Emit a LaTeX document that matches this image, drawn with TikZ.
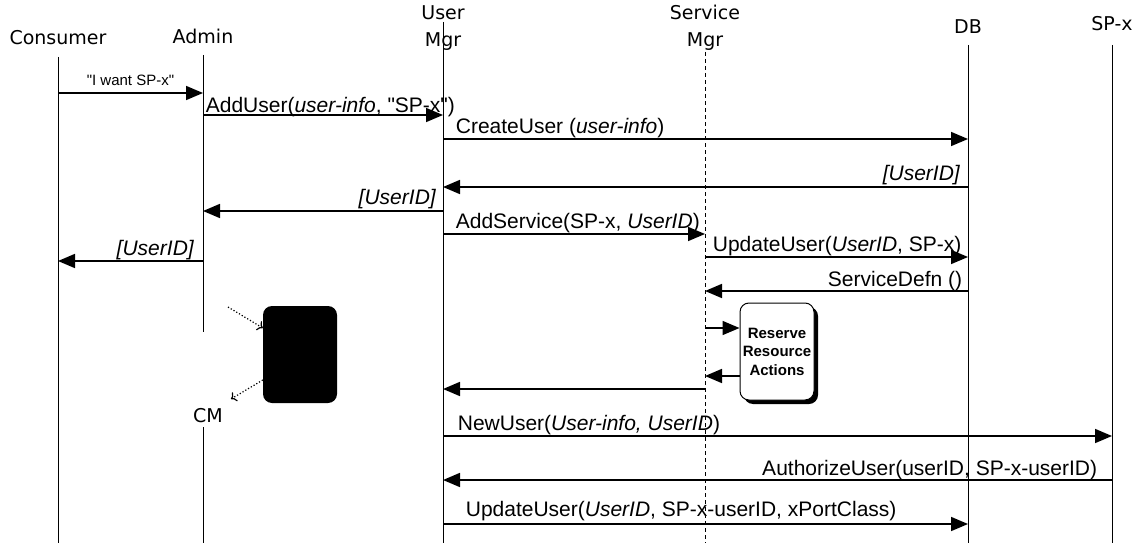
\documentclass[tikz,border=0pt]{standalone}
\usepackage{fontspec}
\setmainfont{Liberation Sans}
\newfontfamily\headfont{DejaVu Sans}
\usetikzlibrary{arrows.meta,shadows}

\begin{document}
\begin{tikzpicture}[x=1pt,y=-1pt,>={Triangle[length=17pt,width=14pt]},
  head/.style={font=\headfont\fontsize{19}{27}\selectfont,align=center,inner sep=0pt},
  life/.style={line width=0.9pt},
  msg/.style={->,line width=1.7pt},
  lbl/.style={font=\fontsize{21}{24}\selectfont,inner sep=0pt,yshift=6pt},
  act box/.style={draw,line width=1pt,rounded corners=9pt,fill=white,
    minimum width=74pt,minimum height=97pt,inner sep=1pt,align=center,
    font=\bfseries\fontsize{15}{18.5}\selectfont,
    drop shadow={shadow xshift=4pt,shadow yshift=-4pt,opacity=1,fill=black}}]

  \useasboundingbox[fill=white] (0,0) rectangle (1141,543);

  % lifelines
  \coordinate (cons)  at (58,57);
  \coordinate (admin) at (203,55);
  \coordinate (umgr)  at (443,22);
  \coordinate (smgr)  at (705,52);
  \coordinate (db)    at (968,45);
  \coordinate (spx)   at (1112,45);

  \node[head] (cons head)  at (58,38)   {Consumer};
  \node[head] (admin head) at (203,36)  {Admin};
  \node[head] (umgr head)  at (443,28)  {User\\Mgr};
  \node[head] (smgr head)  at (705,28)  {Service\\Mgr};
  \node[head] (db head)    at (968,27)  {DB};
  \node[head] (spx head)   at (1112,24) {SP-x};

  \draw[life] (cons) -- (cons |- 0,543);
  \draw[life] (admin) -- (admin |- 0,332) (admin |- 0,427) -- (admin |- 0,543);
  \draw[life] (umgr) -- (umgr |- 0,543);
  \draw[life,dash pattern=on 4pt off 3pt] (smgr) -- (smgr |- 0,543);
  \draw[life] (db) -- (db |- 0,543);
  \draw[life] (spx) -- (spx |- 0,543);

  \node[act box] (rsv) at (777,351.5) {Reserve\\Resource\\Actions};
  \node[fill=black,rounded corners=9pt,minimum width=74pt,minimum height=97pt,
    inner sep=0pt] (cm box) at (300,354.5) {};
  \node[head] (cm) at (208,416) {CM};
  \coordinate (cm in)  at (228,307);
  \coordinate (cm out) at (231,399);

  % messages
  \draw[msg] (cons |- 0,93) -- (admin |- 0,93)
    node[midway,font=\fontsize{15}{17}\selectfont,inner sep=0pt,anchor=base,yshift=8pt]
      {\textquotedbl I want SP-x\textquotedbl};
  \draw[msg] (admin |- 0,115) -- (umgr |- 0,115)
    node[lbl,pos=0,anchor=base west,xshift=2pt,yshift=-3pt]
      {AddUser(\textit{user-info}, \textquotedbl SP-x\textquotedbl)};
  \draw[msg] (umgr |- 0,139) -- (db |- 0,139)
    node[lbl,pos=0,anchor=base west,xshift=12pt] {CreateUser (\textit{user-info})};
  \draw[msg] (db |- 0,187) -- (umgr |- 0,187)
    node[lbl,pos=0,anchor=base east,xshift=-7pt,yshift=1pt] {\textit{[UserID]}};
  \draw[msg] (umgr |- 0,211) -- (admin |- 0,211)
    node[lbl,pos=0,anchor=base east,xshift=-6pt,yshift=1pt] {\textit{[UserID]}};
  \draw[msg] (umgr |- 0,234) -- (smgr |- 0,234)
    node[lbl,pos=0,anchor=base west,xshift=12pt] {AddService(SP-x, \textit{UserID})};
  \draw[msg] (admin |- 0,261) -- (cons |- 0,261)
    node[lbl,pos=0,anchor=base east,xshift=-8pt] {\textit{[UserID]}};
  \draw[msg] (smgr |- 0,257) -- (db |- 0,257)
    node[lbl,pos=0,anchor=base west,xshift=7pt] {UpdateUser(\textit{UserID}, SP-x)};
  \draw[msg] (db |- 0,291) -- (smgr |- 0,291)
    node[lbl,pos=0,anchor=base east,xshift=-5pt,yshift=-1pt] {ServiceDefn ()};
  \draw[msg] (smgr |- 0,328) -- (rsv.west |- 0,328);
  \draw[msg] (rsv.west |- 0,376) -- (smgr |- 0,376);
  \draw[msg] (smgr |- 0,389) -- (umgr |- 0,389);
  \draw[msg] (umgr |- 0,436) -- (spx |- 0,436)
    node[lbl,pos=0,anchor=base west,xshift=14pt] {NewUser(\textit{User-info, UserID})};
  \draw[msg] (spx |- 0,480) -- (umgr |- 0,480)
    node[lbl,pos=0,anchor=base east,xshift=-14pt,yshift=-1pt] {AuthorizeUser(userID, SP-x-userID)};
  \draw[msg] (umgr |- 0,524) -- (db |- 0,524)
    node[lbl,pos=0,anchor=base west,xshift=22pt,yshift=2pt] {UpdateUser(\textit{UserID}, SP-x-userID, xPortClass)};

  \draw[dotted,line width=1.2pt,-{To[length=5pt]}] (cm in) -- (cm box.west |- 0,328);
  \draw[dotted,line width=1.2pt,-{To[length=5pt]}] (cm box.west |- 0,380) -- (cm out);
\end{tikzpicture}
\end{document}
